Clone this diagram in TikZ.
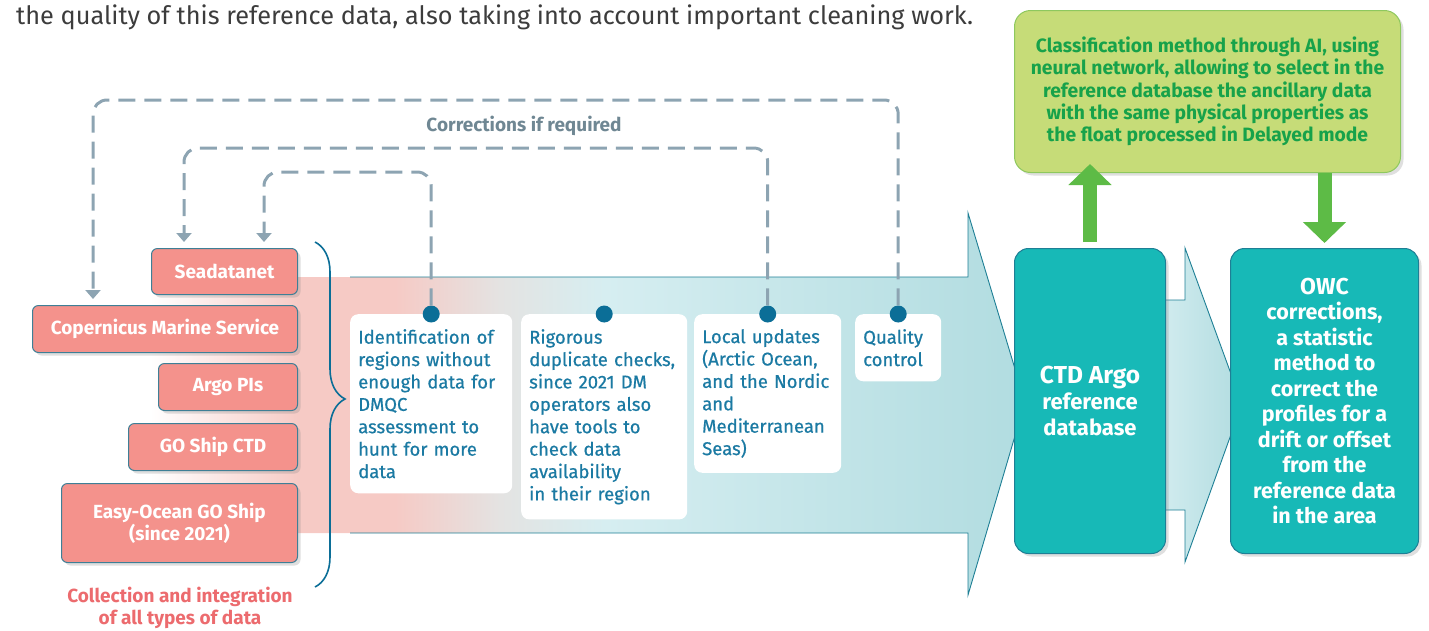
\documentclass[tikz,border=0pt]{standalone}
\usepackage{fontspec}
\setmainfont{Fira Sans}
\newfontfamily\stepfont{Fira Sans}[FakeBold=0.6]
\usetikzlibrary{arrows.meta,shadows,decorations.pathreplacing}
\definecolor{topgray}{HTML}{3C3C3C}
\definecolor{salmon}{HTML}{F4928C}
\definecolor{salmonline}{HTML}{3E7F96}
\definecolor{salmontext}{HTML}{EC6B6E}
\definecolor{stepblue}{HTML}{1B7AA3}
\definecolor{dotblue}{HTML}{0B6E97}
\definecolor{corrgray}{HTML}{8DA4B2}
\definecolor{corrtext}{HTML}{6F8793}
\definecolor{dbteal}{HTML}{17B9B7}
\definecolor{dbline}{HTML}{1E7F95}
\definecolor{limefill}{HTML}{C6DC78}
\definecolor{limeline}{HTML}{8EC85E}
\definecolor{limetext}{HTML}{17A24A}
\definecolor{limearrow}{HTML}{5DBB46}
\definecolor{pinkbg}{HTML}{F6CAC5}
\definecolor{graybg}{HTML}{E4E3E2}
\definecolor{cyanbg}{HTML}{D6EEF1}
\definecolor{tealbg}{HTML}{B1DCE0}
\pgfdeclarehorizontalshading{flowshade}{100bp}{color(0bp)=(white); color(25bp)=(white); color(33.6bp)=(pinkbg); color(39bp)=(pinkbg); color(45bp)=(graybg); color(51bp)=(cyanbg); color(75bp)=(tealbg); color(100bp)=(tealbg)}

\begin{document}
\begin{tikzpicture}[x=1pt,y=-1pt]
\tikzset{srcbox/.style={draw=salmonline, fill=salmon, rounded corners=6pt, line width=1pt, text=white, font=\bfseries\fontsize{19}{22}\selectfont, align=center, anchor=north east, inner sep=0pt, drop shadow={opacity=0.25, shadow xshift=3pt, shadow yshift=-3pt}}}
\tikzset{stepnote/.style={fill=white, rounded corners=8pt, anchor=north west, align=left, text=stepblue, font=\stepfont\fontsize{18.5}{22.4}\selectfont, inner xsep=8pt, inner ysep=15pt}}
\tikzset{dot/.style={circle, fill=dotblue, minimum size=17pt, inner sep=0pt}}
\tikzset{corr/.style={draw=corrgray, line width=3pt, dash pattern=on 17pt off 9pt, rounded corners=14pt, shorten >=6pt, -{Triangle[width=15pt,length=9pt]}}}
\tikzset{flowline/.style={draw=dbline, line width=0.9pt}}
\tikzset{dbbox/.style={draw=dbline, fill=dbteal, rounded corners=14pt, line width=1pt, text=white, align=center, anchor=north west, inner sep=0pt, drop shadow={opacity=0.25, shadow xshift=3pt, shadow yshift=-3pt}}}
\tikzset{limebox/.style={draw=limeline, fill=limefill, rounded corners=16pt, line width=1pt, text=limetext, align=center, anchor=north west, inner sep=0pt, font=\bfseries\fontsize{19.3}{22.3}\selectfont, drop shadow={opacity=0.25, shadow xshift=3pt, shadow yshift=-3pt}}}
\tikzset{bigarrow/.style={draw=limearrow, line width=14pt, -{Triangle[width=42pt,length=21pt]}}}
\useasboundingbox (0,0) rectangle (1429,630);
\node[anchor=west, font=\fontsize{25.3}{27}\selectfont, text=topgray, inner sep=0pt] (intro) at (16,17) {the quality of this reference data, also taking into account important cleaning work.};
\shade[shading=flowshade] (150,277) -- (968,277) -- (968,213) -- (1025,402) -- (968,595) -- (968,533) -- (150,533) -- cycle;
\draw[flowline] (350,277) -- (968,277) -- (968,213) -- (1025,402) -- (968,595) -- (968,533) -- (350,533);
\draw[flowline, left color=cyanbg, right color=tealbg] (1150,300) -- (1185,300) -- (1185,248) -- (1242,404) -- (1185,562) -- (1185,510) -- (1150,510);
\draw[decorate, decoration={brace, amplitude=30pt, aspect=0.455}, draw=dotblue, line width=1.6pt] (315,242) -- (315,587);
\node[stepnote, text width=146pt] (idn) at (350,314) {Identification of\\regions without\\enough data for\\DMQC\\assessment to\\hunt for more\\data};
\node[stepnote, text width=150pt] (dup) at (521,314) {Rigorous\\duplicate checks,\\since 2021 DM\\operators also\\have tools to\\check data\\availability\\in their region};
\node[stepnote, text width=131pt] (loc) at (694,314) {Local updates\\(Arctic Ocean,\\and the Nordic\\and\\Mediterranean\\Seas)};
\node[stepnote, text width=70pt] (qc) at (855,314) {Quality\\control};
\node[dot] (d1) at (idn.north) {};
\node[dot] (d2) at (dup.north) {};
\node[dot] (d3) at (loc.north) {};
\node[dot] (d4) at (qc.north) {};
\node[srcbox, minimum width=146pt, minimum height=46pt] (sea) at (298,248) {Seadatanet};
\node[srcbox, minimum width=265pt, minimum height=47pt] (cop) at (298,305) {Copernicus Marine Service};
\node[srcbox, minimum width=139pt, minimum height=47pt] (argo) at (298,363) {Argo PIs};
\node[srcbox, minimum width=169pt, minimum height=47pt] (goship) at (298,423) {GO Ship CTD};
\node[srcbox, minimum width=236pt, minimum height=79pt] (easy) at (298,483) {Easy-Ocean GO Ship\\(since 2021)};
\coordinate (top4) at (93,100);
\coordinate (top3) at (184,148);
\coordinate (top1) at (264,172);
\draw[corr] (d4) |- (top4) -- (top4 |- cop.north);
\draw[corr] (d3) |- (top3) -- (top3 |- sea.north);
\draw[corr] (d1) |- (top1) -- (top1 |- sea.north);
\node[font=\bfseries\fontsize{19}{22}\selectfont, text=corrtext] (corrlbl) at (524,126) {Corrections if required};
\node[font=\bfseries\fontsize{19}{22}\selectfont, text=salmontext, align=center] (coll) at (180,608) {Collection and integration\\of all types of data};
\node[dbbox, minimum width=151pt, minimum height=305pt, font=\bfseries\fontsize{22}{26}\selectfont] (ctd) at (1014,248) {{\fontsize{24.5}{26}\selectfont CTD Argo}\\reference\\database};
\node[dbbox, minimum width=188pt, minimum height=305pt, font=\bfseries\fontsize{21.5}{25.5}\selectfont] (owc) at (1230,248) {{\fontsize{23}{26}\selectfont OWC}\\corrections,\\a statistic\\method to\\correct the\\profiles for a\\drift or offset\\from the\\reference data\\in the area};
\node[limebox, minimum width=386pt, minimum height=162pt] (cls) at (1014,10) {Classification method through AI, using\\neural network, allowing to select in the\\reference database the ancillary data\\with the same physical properties as\\the float processed in Delayed mode};
\draw[bigarrow] ([yshift=6pt]ctd.north) -- ([yshift=9pt]ctd.north |- cls.south);
\draw[bigarrow] (owc.north |- cls.south) -- ([yshift=5pt]owc.north);
\end{tikzpicture}
\end{document}
